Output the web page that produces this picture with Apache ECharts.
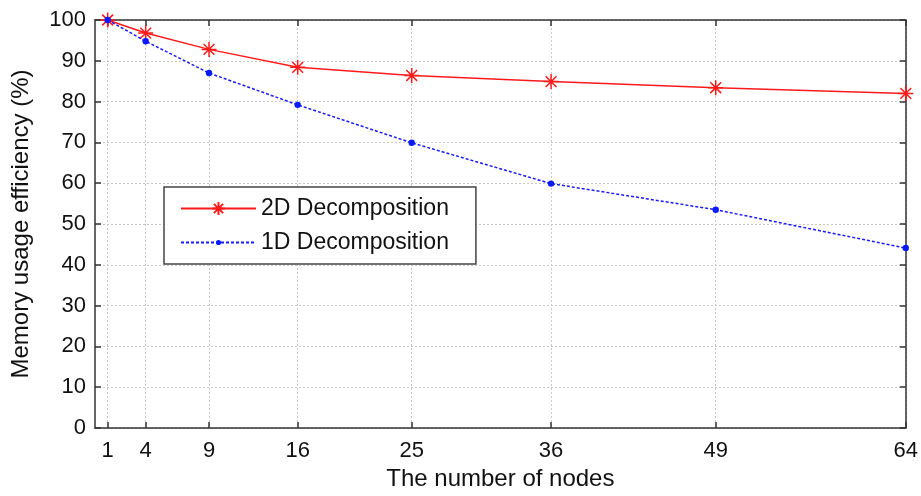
<!DOCTYPE html>
<html>
<head>
<meta charset="utf-8">
<script src="https://cdn.jsdelivr.net/npm/echarts@6/dist/echarts.min.js"></script>
<style>html,body{margin:0;padding:0;background:#fff;}#c{width:921px;height:496px;}</style>
</head>
<body>
<div id="c"></div>
<script>
const nodes = [1, 4, 9, 16, 25, 36, 49, 64];
const eff2D = [100, 96.8, 92.8, 88.4, 86.4, 84.9, 83.4, 82.0];
const eff1D = [100, 94.8, 87.0, 79.2, 69.9, 59.9, 53.5, 44.1];
const yTicks = [0, 10, 20, 30, 40, 50, 60, 70, 80, 90, 100];
const seriesNames = ['2D Decomposition', '1D Decomposition'];

const FONT = 'Liberation Sans, Arial, Helvetica, sans-serif';
const AXC = '#333333';
const asterisk = 'path://M0,-1L0,1M-1,0L1,0M-0.72,-0.72L0.72,0.72M-0.72,0.72L0.72,-0.72';
const dot = 'path://M-2.5,-2.5L-2.5,-2.5M2.5,2.5L2.5,2.5M-1,0A1,1,0,1,0,1,0A1,1,0,1,0,-1,0Z';

const chart = echarts.init(document.getElementById('c'), null, {renderer: 'canvas'});
const baseX = {
  type: 'value', min: 0, max: 64,
  axisLine: {show: true, onZero: false, lineStyle: {color: AXC, width: 1.5}},
  axisTick: {show: true, inside: true, length: 6, customValues: nodes, lineStyle: {color: AXC, width: 1.5}},
  splitLine: {show: false}
};
const baseY = {
  type: 'value', min: 0, max: 100, interval: 10,
  axisLine: {show: true, onZero: false, lineStyle: {color: AXC, width: 1.5}},
  axisTick: {show: true, inside: true, length: 6, lineStyle: {color: AXC, width: 1.5}},
  splitLine: {show: false}
};
chart.setOption({
  animation: false,
  backgroundColor: '#fff',
  grid: {left: 95, right: 15, top: 20, bottom: 64, containLabel: false},
  xAxis: [
    Object.assign({}, baseX, {
      position: 'bottom',
      name: 'The number of nodes', nameLocation: 'middle', nameGap: 39,
      nameTextStyle: {fontFamily: FONT, fontSize: 24, color: '#111'},
      axisLabel: {show: true, customValues: nodes, fontFamily: FONT, fontSize: 22, color: '#111', margin: 12},
      splitLine: {show: true, lineStyle: {color: '#c8c8c8', type: [2, 2], width: 1}}
    }),
    Object.assign({}, baseX, {position: 'top', axisLabel: {show: false}})
  ],
  yAxis: [
    Object.assign({}, baseY, {
      position: 'left',
      name: 'Memory usage efficiency (%)', nameLocation: 'middle', nameGap: 62,
      nameTextStyle: {fontFamily: FONT, fontSize: 24, color: '#111'},
      axisLabel: {show: true, fontFamily: FONT, fontSize: 22, color: '#111', margin: 9,
        customValues: yTicks},
      splitLine: {show: true, lineStyle: {color: '#c8c8c8', type: [2, 2], width: 1}}
    }),
    Object.assign({}, baseY, {position: 'right', axisLabel: {show: false}})
  ],
  legend: {
    show: true, orient: 'vertical', left: 164, top: 187,
    data: seriesNames,
    itemWidth: 75, itemHeight: 16, itemGap: 11,
    padding: [10, 27, 10, 16],
    borderColor: '#444', borderWidth: 1.5, backgroundColor: '#fff',
    textStyle: {fontFamily: FONT, fontSize: 23, color: '#111'},
    selectedMode: false
  },
  series: [
    {
      name: seriesNames[0], type: 'line',
      data: nodes.map((n, i) => [n, eff2D[i]]),
      lineStyle: {color: '#ff1a1a', width: 1.5, type: 'solid'},
      symbol: asterisk, symbolSize: 15,
      itemStyle: {color: '#ff1a1a', borderColor: '#ff1a1a', borderWidth: 1.5},
      z: 3
    },
    {
      name: seriesNames[1], type: 'line',
      data: nodes.map((n, i) => [n, eff1D[i]]),
      lineStyle: {color: '#1a1aff', width: 1.5, type: [3, 2]},
      symbol: dot, symbolSize: 16,
      itemStyle: {color: '#0a1aff', borderWidth: 0},
      z: 4
    }
  ]
});
</script>
</body>
</html>
